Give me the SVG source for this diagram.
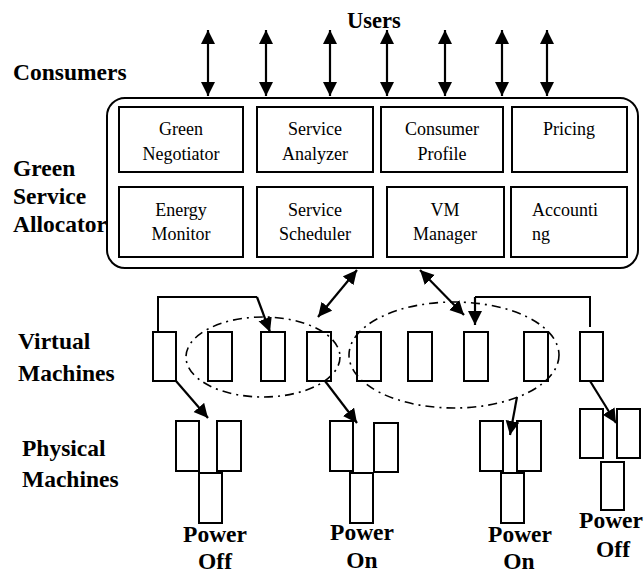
<svg xmlns="http://www.w3.org/2000/svg" width="644" height="576" viewBox="0 0 644 576">
<style>
.lbl{font-family:"Liberation Serif","Times New Roman",serif;font-weight:bold;font-size:23.5px;fill:#000}
.txt{font-family:"Liberation Serif","Times New Roman",serif;font-size:18px;fill:#000;text-anchor:middle}
.box{fill:#fff;stroke:#000;stroke-width:2}
.vm{fill:#fff;stroke:#000;stroke-width:2}
.ln{fill:none;stroke:#000;stroke-width:2}
.ar{fill:none;stroke:#000;stroke-width:2.2;marker-end:url(#ah)}
.dar{fill:none;stroke:#000;stroke-width:2.2;marker-start:url(#ah);marker-end:url(#ah)}
.ell{fill:none;stroke:#000;stroke-width:1.6;stroke-dasharray:9 5 2 5}
</style>
<defs>
<marker id="ah" markerUnits="userSpaceOnUse" markerWidth="16" markerHeight="16" refX="14" refY="7" orient="auto-start-reverse" viewBox="0 0 16 16">
<path d="M0,0 L14,7 L0,14 z" fill="#000"/>
</marker>
</defs>

<g id="labels">
<text class="lbl" x="347" y="28" style="font-size:22.5px">Users</text>
<text class="lbl" x="13" y="80">Consumers</text>
<text class="lbl" x="13" y="176">Green</text>
<text class="lbl" x="13" y="204">Service</text>
<text class="lbl" x="13" y="232">Allocator</text>
<text class="lbl" x="18" y="349">Virtual</text>
<text class="lbl" x="18" y="381">Machines</text>
<text class="lbl" x="22" y="456">Physical</text>
<text class="lbl" x="22" y="487">Machines</text>
</g>

<g id="allocator">
<rect x="107" y="98" width="531" height="170" rx="18" ry="18" fill="#fff" stroke="#000" stroke-width="2"/>
</g>
<g id="green-negotiator">
<rect class="box" x="119" y="107" width="124" height="65"/>
<text class="txt" x="181" y="135">Green</text>
<text class="txt" x="181" y="160">Negotiator</text>
</g>
<g id="service-analyzer">
<rect class="box" x="257" y="107" width="116" height="65"/>
<text class="txt" x="315" y="135">Service</text>
<text class="txt" x="315" y="160">Analyzer</text>
</g>
<g id="consumer-profile">
<rect class="box" x="381" y="107" width="122" height="65"/>
<text class="txt" x="442" y="135">Consumer</text>
<text class="txt" x="442" y="160">Profile</text>
</g>
<g id="pricing">
<rect class="box" x="512" y="107" width="115" height="65"/>
<text class="txt" x="569" y="135">Pricing</text>
</g>
<g id="energy-monitor">
<rect class="box" x="119" y="187" width="124" height="70"/>
<text class="txt" x="181" y="216">Energy</text>
<text class="txt" x="181" y="240">Monitor</text>
</g>
<g id="service-scheduler">
<rect class="box" x="257" y="187" width="116" height="70"/>
<text class="txt" x="315" y="216">Service</text>
<text class="txt" x="315" y="240">Scheduler</text>
</g>
<g id="vm-manager">
<rect class="box" x="387" y="187" width="117" height="70"/>
<text class="txt" x="445" y="216">VM</text>
<text class="txt" x="445" y="240">Manager</text>
</g>
<g id="accounting">
<rect class="box" x="511" y="187" width="116" height="70"/>
<text class="txt" x="532" y="216" style="text-anchor:start">Accounti</text>
<text class="txt" x="532" y="240" style="text-anchor:start">ng</text>
</g>

<g id="virtual-machines">
<rect class="vm" x="153" y="332" width="23" height="49"/>
<rect class="vm" x="208" y="332" width="24" height="49"/>
<rect class="vm" x="261" y="332" width="24" height="49"/>
<rect class="vm" x="307" y="332" width="24" height="49"/>
<rect class="vm" x="357" y="332" width="24" height="49"/>
<rect class="vm" x="408" y="332" width="24" height="49"/>
<rect class="vm" x="464" y="332" width="24" height="49"/>
<rect class="vm" x="524" y="332" width="24" height="49"/>
<rect class="vm" x="580" y="332" width="23" height="49"/>
</g>

<g id="vm-groups">
<ellipse class="ell" cx="263" cy="357" rx="77" ry="40"/>
<ellipse class="ell" cx="454" cy="355" rx="105" ry="53"/>
</g>

<g id="pm-power-off-1">
<rect class="vm" x="176" y="421" width="23" height="50"/>
<rect class="vm" x="217" y="421" width="24" height="50"/>
<rect class="vm" x="199" y="473" width="23" height="50"/>
<text class="lbl" x="215" y="542" text-anchor="middle">Power</text>
<text class="lbl" x="215" y="569" text-anchor="middle">Off</text>
</g>
<g id="pm-power-on-1">
<rect class="vm" x="330" y="421" width="23" height="50"/>
<rect class="vm" x="374" y="423" width="24" height="49"/>
<rect class="vm" x="350" y="473" width="23" height="50"/>
<text class="lbl" x="362" y="540" text-anchor="middle">Power</text>
<text class="lbl" x="362" y="568" text-anchor="middle">On</text>
</g>
<g id="pm-power-on-2">
<rect class="vm" x="480" y="421" width="23" height="50"/>
<rect class="vm" x="517" y="421" width="24" height="50"/>
<rect class="vm" x="501" y="473" width="23" height="50"/>
<text class="lbl" x="520" y="542" text-anchor="middle">Power</text>
<text class="lbl" x="519" y="569" text-anchor="middle">On</text>
</g>
<g id="pm-power-off-2">
<rect class="vm" x="580" y="409" width="23" height="49"/>
<rect class="vm" x="617" y="409" width="23" height="49"/>
<rect class="vm" x="601" y="462" width="23" height="48"/>
<text class="lbl" x="611" y="528" text-anchor="middle">Power</text>
<text class="lbl" x="613" y="557" text-anchor="middle">Off</text>
</g>

<g id="connectors">
<line class="dar" x1="208" y1="30" x2="208" y2="96"/>
<line class="dar" x1="266" y1="30" x2="266" y2="96"/>
<line class="dar" x1="330" y1="30" x2="330" y2="96"/>
<line class="dar" x1="387" y1="30" x2="387" y2="96"/>
<line class="dar" x1="445" y1="30" x2="445" y2="96"/>
<line class="dar" x1="502" y1="30" x2="502" y2="96"/>
<line class="dar" x1="547" y1="30" x2="547" y2="96"/>
<line class="dar" x1="357" y1="270" x2="318" y2="317"/>
<line class="dar" x1="420" y1="270" x2="464" y2="315"/>
<polyline class="ln" points="158,331 158,297 257,297"/>
<line class="ar" x1="257" y1="297" x2="270" y2="332"/>
<polyline class="ln" points="590,327 590,297 475,297"/>
<line class="ar" x1="475" y1="297" x2="475" y2="325"/>
<line class="ar" x1="176" y1="381" x2="208" y2="418"/>
<line class="ar" x1="325" y1="381" x2="357" y2="423"/>
<line class="ar" x1="517" y1="397" x2="510" y2="435"/>
<line class="ar" x1="590" y1="381" x2="616" y2="423"/>
</g>
</svg>
